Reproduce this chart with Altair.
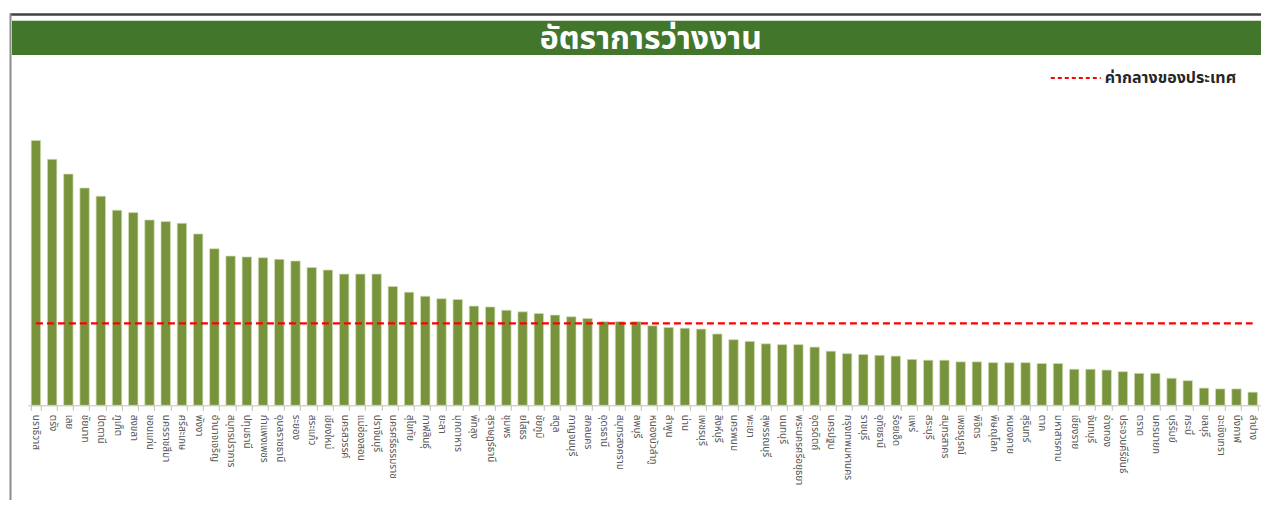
import altair as alt
import pandas as pd

provinces = [
    "นราธิวาส", "ตรัง", "เลย", "ชัยนาท", "ปัตตานี", "ภูเก็ต", "สงขลา", "ขอนแก่น",
    "นครราชสีมา", "ศรีสะเกษ", "พังงา", "อำนาจเจริญ", "สมุทรปราการ", "ปทุมธานี",
    "กำแพงเพชร", "อุบลราชธานี", "ระยอง", "สระแก้ว", "เชียงใหม่", "นครสวรรค์",
    "แม่ฮ่องสอน", "ปราจีนบุรี", "นครศรีธรรมราช", "สุโขทัย", "กาฬสินธุ์", "ยะลา",
    "มุกดาหาร", "พัทลุง", "สุราษฎร์ธานี", "ชุมพร", "ยโสธร", "ชัยภูมิ", "สตูล",
    "กาญจนบุรี", "สกลนคร", "อุดรธานี", "สมุทรสงคราม", "ลพบุรี", "หนองบัวลำภู",
    "ลำพูน", "น่าน", "เพชรบุรี", "สิงห์บุรี", "นครพนม", "พะเยา", "สุพรรณบุรี",
    "นนทบุรี", "พระนครศรีอยุธยา", "อุตรดิตถ์", "นครปฐม", "กรุงเทพมหานคร", "ราชบุรี",
    "อุทัยธานี", "ร้อยเอ็ด", "แพร่", "สระบุรี", "สมุทรสาคร", "เพชรบูรณ์", "พิจิตร",
    "พิษณุโลก", "หนองคาย", "สุรินทร์", "ตาก", "มหาสารคาม", "เชียงราย", "จันทบุรี",
    "อ่างทอง", "ประจวบคีรีขันธ์", "ตราด", "นครนายก", "บุรีรัมย์", "กระบี่", "ชลบุรี",
    "ฉะเชิงเทรา", "บึงกาฬ", "ลำปาง",
]
rates = [
    3.23, 3.00, 2.82, 2.65, 2.55, 2.38, 2.35, 2.26, 2.24, 2.22,
    2.09, 1.91, 1.82, 1.81, 1.80, 1.78, 1.76, 1.68, 1.65, 1.60,
    1.60, 1.60, 1.45, 1.38, 1.33, 1.30, 1.29, 1.21, 1.20, 1.16,
    1.14, 1.12, 1.10, 1.08, 1.06, 1.02, 1.02, 1.02, 0.97, 0.95,
    0.94, 0.93, 0.87, 0.80, 0.78, 0.75, 0.74, 0.74, 0.71, 0.66,
    0.63, 0.62, 0.61, 0.60, 0.56, 0.55, 0.55, 0.53, 0.53, 0.52,
    0.52, 0.52, 0.51, 0.51, 0.44, 0.44, 0.43, 0.41, 0.39, 0.39,
    0.33, 0.30, 0.21, 0.20, 0.20, 0.16,
]
median_rate = 1.0
title_text = "อัตราการว่างงาน"
legend_label = "ค่ากลางของประเทศ"

FONT = "Tahoma, Leelawadee UI, Noto Sans Thai, Loma, Garuda, sans-serif"

df = pd.DataFrame({"province": provinces, "rate": rates})
df_med = pd.DataFrame({
    "province": provinces,
    "median": [median_rate] * len(provinces),
    "series": [legend_label] * len(provinces),
})
df_title = pd.DataFrame({"t": [title_text]})

W = 1233
H = 344.4
ydom = [0, 4.2]

x_enc = alt.X(
    "province:N", sort=provinces, title=None,
    scale=alt.Scale(paddingInner=0.42, paddingOuter=0.21),
    axis=alt.Axis(
        labelAngle=90, labelAlign="left", labelBaseline="middle",
        labelFontSize=10, labelColor="#595959", labelFont=FONT,
        labelPadding=4, tickBand="extent", tickSize=5, tickColor="#BFBFBF",
        domainColor="#BFBFBF", labelOverlap=False, grid=False,
    ),
)

bars = alt.Chart(df).mark_bar(color="#77933C", stroke="#D2DFB5", strokeWidth=0.7).encode(
    x=x_enc,
    y=alt.Y("rate:Q", scale=alt.Scale(domain=ydom), axis=None),
)

med = alt.Chart(df_med).mark_line(strokeDash=[7, 4], strokeWidth=2.2).encode(
    x=alt.X("province:N", sort=provinces),
    y=alt.Y("median:Q", scale=alt.Scale(domain=ydom), axis=None),
    color=alt.Color(
        "series:N", scale=alt.Scale(range=["#FF0000"]),
        legend=alt.Legend(
            title=None, orient="none", legendX=1022, legendY=-9,
            symbolType="stroke", symbolSize=2500, symbolStrokeWidth=2,
            symbolDash=[4, 3], labelFontSize=16, labelFont=FONT,
            labelFontWeight="bold", labelColor="#262626", labelOffset=3,
        ),
    ),
)

top_line = alt.Chart(df_title).mark_rule(color="#404040", strokeWidth=2.5).encode(
    x=alt.value(-17.8), x2=alt.value(1233.2), y=alt.value(-46.4)
)
left_line = alt.Chart(df_title).mark_rule(color="#8C8C8C", strokeWidth=2).encode(
    x=alt.value(-17.3), y=alt.value(-47.5), y2=alt.value(439)
)
banner = alt.Chart(df_title).mark_rect(color="#41762B").encode(
    x=alt.value(-15.8), x2=alt.value(1233.2), y=alt.value(-40.2), y2=alt.value(-5.9)
)
title = alt.Chart(df_title).mark_text(
    color="white", fontSize=32, fontWeight="bold", font=FONT, align="center", baseline="middle"
).encode(x=alt.value(623), y=alt.value(-21.5), text="t:N")

chart = alt.layer(top_line, left_line, banner, title, bars, med).properties(
    width=W, height=H,
    padding={"left": 19.8, "top": 52.9, "right": 0, "bottom": 102},
    autosize=alt.AutoSizeParams(type="none"),
).configure_view(stroke=None)

chart.save("out.html", embed_options={"renderer": "svg", "actions": False})
